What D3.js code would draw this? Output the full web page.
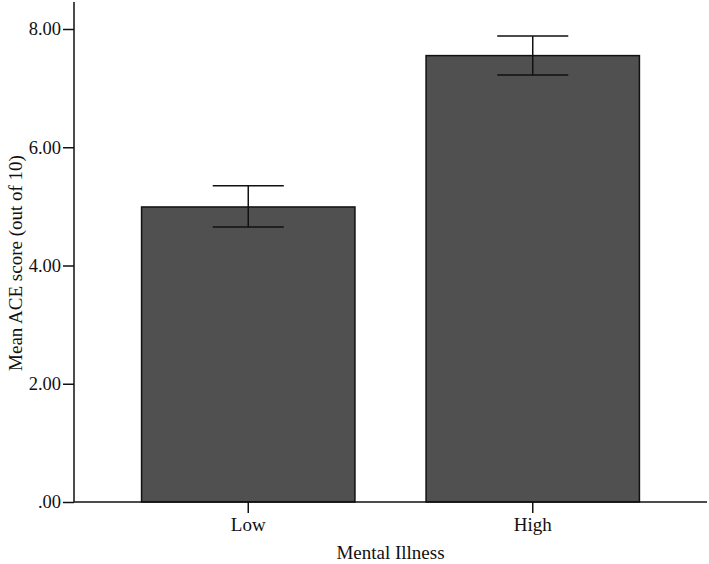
<!DOCTYPE html>
<html><head><meta charset="utf-8">
<script src="https://cdn.jsdelivr.net/npm/d3@7"></script>
<style>body{margin:0;background:#fff}svg{display:block}text{font-family:"Liberation Serif","Times New Roman",serif;fill:#111}</style>
</head><body><svg id="c" width="709" height="564"></svg>
<script>
const categories = ["Low", "High"];
const means = [4.99, 7.55];
const errLow = [4.65, 7.22];
const errHigh = [5.35, 7.88];
const yTicks = [0, 2, 4, 6, 8];

const svg = d3.select("#c");
const margin = {left: 74, right: 2, top: 2, bottom: 62};
const W = 709, H = 564;
const x = d3.scaleBand().domain(categories).range([margin.left, W - margin.right]).paddingInner(0.25).paddingOuter(0.2375);
const y = d3.scaleLinear().domain([0, 8]).range([502, 29]);

const g = svg.append("g");
g.selectAll("rect.bar").data(categories).join("rect")
  .attr("x", d => x(d)).attr("y", (d,i) => y(means[i]))
  .attr("width", x.bandwidth()).attr("height", (d,i) => y(0) - y(means[i]))
  .attr("fill", "#505050").attr("stroke", "#111").attr("stroke-width", 1.5);
const capW = x.bandwidth() * 0.333;
categories.forEach((c, i) => {
  const cx = x(c) + x.bandwidth() / 2;
  g.append("line").attr("x1", cx).attr("x2", cx).attr("y1", y(errHigh[i])).attr("y2", y(errLow[i])).attr("stroke", "#111").attr("stroke-width", 1.5);
  [errHigh[i], errLow[i]].forEach(v => g.append("line").attr("x1", cx - capW/2).attr("x2", cx + capW/2).attr("y1", y(v)).attr("y2", y(v)).attr("stroke", "#111").attr("stroke-width", 1.5));
});
const yAxis = d3.axisLeft(y).tickValues(yTicks).tickSize(11).tickPadding(2)
  .tickFormat(d => d === 0 ? ".00" : d3.format(".2f")(d));
const ya = svg.append("g").attr("transform", `translate(${margin.left},0)`).call(yAxis);
ya.select(".domain").attr("d", `M0,${margin.top}V${y(0)}`).attr("stroke", "#111").attr("stroke-width", 1.5);
ya.selectAll(".tick line").attr("stroke", "#111").attr("stroke-width", 1.5);
ya.selectAll(".tick text").attr("font-size", 18.5).attr("font-family", "Liberation Serif").attr("fill", "#111");

const xAxis = d3.axisBottom(x).tickSize(11).tickPadding(5);
const xa = svg.append("g").attr("transform", `translate(0,${y(0)})`).call(xAxis);
xa.select(".domain").attr("d", `M${margin.left},0H${W - margin.right}`).attr("stroke", "#111").attr("stroke-width", 1.5);
xa.selectAll(".tick line").attr("stroke", "#111").attr("stroke-width", 1.5);
xa.selectAll(".tick text").attr("font-size", 19).attr("font-family", "Liberation Serif").attr("fill", "#111");

svg.append("text").attr("x", (margin.left + W - margin.right) / 2).attr("y", 559)
  .attr("text-anchor", "middle").attr("font-size", 19).text("Mental Illness");
svg.append("text").attr("transform", "translate(22,263) rotate(-90)")
  .attr("text-anchor", "middle").attr("font-size", 19).text("Mean ACE score (out of 10)");
</script></body></html>
